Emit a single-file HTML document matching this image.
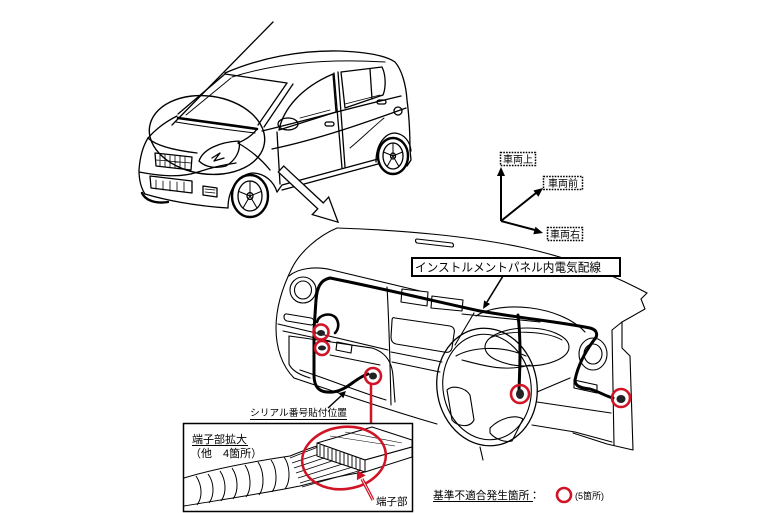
<!DOCTYPE html>
<html><head><meta charset="utf-8">
<style>
html,body{margin:0;padding:0;background:#fff;}
svg{display:block;}
text{font-family:"Liberation Sans","Noto Sans CJK JP",sans-serif;fill:#000;}
</style></head><body>
<svg width="770" height="513" viewBox="0 0 770 513" xmlns="http://www.w3.org/2000/svg">
<rect width="770" height="513" fill="#fff"/>

<!-- ================= CAR ================= -->
<g fill="none" stroke="#000" stroke-width="1.3" stroke-linejoin="round" stroke-linecap="round">
  <!-- long leader line -->
  <path d="M273,22 L172,125"/>
  <!-- roof -->
  <path d="M225,73 C260,58 300,50 340,51 C365,52 385,55 395,62 C402,70 406,85 407,100 C409,115 410,135 410,150"/>
  <path d="M232,77 C270,65 320,58 385,62" stroke-width="1"/>
  <!-- windshield -->
  <path d="M225,74 L287,83"/>
  <path d="M225,74 L178,114"/>
  <path d="M231,78 L186,115" stroke-width="0.9"/>
  <path d="M287,83 L258,125"/>
  <path d="M293,84 L264,127"/>
  <!-- cowl / wiper -->
  <path d="M178,118 C200,121 230,125 257,129" stroke-width="2.6"/>
  <path d="M176,122 C200,126 230,130 255,133" stroke-width="1"/>
  <!-- hood and front -->
  <path d="M177,116 C165,122 155,130 148,138"/>
  <path d="M148,138 C155,145 172,150 197,153"/>
  <path d="M257,129 C252,136 245,140 238,143"/>
  <path d="M148,138 C143,146 140,156 139,170 C139,180 141,188 145,194"/>
  <!-- headlight -->
  <path d="M199,161 C203,149 220,142 239,141 C241,150 236,160 226,166 C215,169 205,167 199,161 Z"/>
  <path d="M212,158 L220,153 L214,161 L224,158"/>
  <!-- grille -->
  <path d="M155,153 L192,157 L191,170 L156,166 Z"/>
  <path d="M160,155 L160,166 M165,155 L165,167 M170,156 L170,167 M175,156 L175,168 M180,156 L180,168 M185,157 L185,169 M156,160 L191,163" stroke-width="0.8"/>
  <!-- bumper -->
  <path d="M139,172 C160,176 180,178 198,172 C210,168 222,165 236,163"/>
  <path d="M145,194 C165,200 195,206 228,208"/>
  <path d="M150,176 L192,181 L192,193 L151,188 Z"/>
  <path d="M156,180 L156,189 M163,181 L163,190 M170,181 L170,191 M177,182 L177,191 M184,182 L184,192" stroke-width="0.8"/>
  <path d="M203,186 L217,188 L217,197 L203,195 Z"/>
  <path d="M205,189 L215,190 M205,192 L215,193" stroke-width="0.7"/>
  <!-- other front tyre under bumper -->
  <path d="M142,193 C145,200 155,204 168,202" stroke-width="2.4"/>
  <!-- front fender arch -->
  <path d="M228,208 C228,190 238,175 252,173 C265,173 274,182 277,192"/>
  <path d="M238,143 C250,150 262,160 270,170"/>
  <!-- front wheel -->
  <ellipse cx="250" cy="196" rx="18" ry="21" stroke-width="2.4"/>
  <ellipse cx="250" cy="196" rx="12" ry="15"/>
  <ellipse cx="250" cy="196" rx="3" ry="3.5"/>
  <path d="M250,196 L250,181 M250,196 L261.4,191.4 M250,196 L257,208 M250,196 L243,208 M250,196 L238.6,191.4" stroke-width="1"/>
  <!-- side -->
  <path d="M262,131 C300,122 350,108 401,96"/>
  <path d="M279,130 C283,110 300,88 333,74 L336,112 Z"/>
  <ellipse cx="288" cy="124" rx="10" ry="6"/>
  <path d="M334,73 L342,168"/>
  <path d="M338,72 L345,167"/>
  <path d="M341,72 L382,67 C386,75 386,88 383,95 L345,108 Z"/>
  <path d="M370,69 L372,99"/>
  <rect x="325" y="122" width="9" height="4" rx="2"/>
  <rect x="377" y="100" width="9" height="4" rx="2"/>
  <circle cx="398" cy="111" r="4"/>
  <path d="M277,132 L280,184"/>
  <path d="M277,192 L282,185 L378,159"/>
  <path d="M282,190 L378,164"/>
  <path d="M272,149 C320,139 370,121 406,108"/>
  <path d="M350,148 C362,138 372,128 384,118" stroke-width="0.9"/>
  <path d="M300,118 L330,110 M345,104 L380,95" stroke-width="0.8"/>
  <!-- rear arch -->
  <path d="M376,162 C376,143 386,133 395,133 C404,134 410,141 411,151"/>
  <path d="M410,150 L411,160 L407,166"/>
  <!-- rear wheel -->
  <ellipse cx="393" cy="156" rx="15" ry="18" stroke-width="2.4"/>
  <ellipse cx="393" cy="156" rx="10" ry="13"/>
  <ellipse cx="393" cy="156" rx="2.5" ry="3"/>
  <path d="M393,156 L393,143 M393,156 L402.5,152 M393,156 L398.9,166.5 M393,156 L387.1,166.5 M393,156 L383.5,152" stroke-width="1"/>
  <!-- callout ellipse -->
  <ellipse cx="207" cy="135" rx="58" ry="39" transform="rotate(8 207 135)" stroke-width="1.4"/>
</g>

<!-- hollow arrow car -> dash -->
<polygon points="0,-4 54,-4 54,-12 78,0 54,12 54,4 0,4" transform="translate(281,169) rotate(43)" fill="#fff" stroke="#000" stroke-width="1.3" stroke-linejoin="miter"/>

<!-- ================= DIRECTION INDICATOR ================= -->
<g stroke="#000" stroke-width="2" fill="none">
  <path d="M501,221 L501,174"/>
  <path d="M501,221 L536,193"/>
  <path d="M501,221 L535,230"/>
</g>
<g fill="#000">
  <polygon points="501,167 497,176 505,176"/>
  <polygon points="543,188 538.4,196.7 533.4,190.5"/>
  <polygon points="543,233 533.3,234.3 535.5,226.7"/>
</g>
<g fill="#fff" stroke="#000" stroke-width="1.5" stroke-dasharray="1.6,1.2">
  <rect x="500.5" y="152.5" width="35" height="13"/>
  <rect x="543.5" y="176.5" width="39" height="13"/>
  <rect x="547.5" y="227.5" width="35" height="13"/>
</g>
<text x="503" y="163" font-size="10">車両上</text>
<text x="548" y="187" font-size="10">車両前</text>
<text x="550" y="238" font-size="10">車両右</text>

<!-- ================= DASHBOARD ================= -->
<g fill="none" stroke="#000" stroke-width="1.1" stroke-linejoin="round" stroke-linecap="round">
  <path d="M337,228 C400,230 470,236 525,248 C575,259 615,276 647,293"/>
  <path d="M337,228 C318,236 300,252 292,268 C282,288 276,308 276,328 C276,348 282,366 294,378"/>
  <path d="M294,378 C330,390 370,404 420,419 L437,424"/>
  <path d="M300,370 C330,380 360,392 386,400"/>
  <path d="M289,276 C298,268 316,266 332,270 L420,291"/>
  <!-- defroster -->
  <path d="M417,239 L452,243 C454,244 454,247 452,247 L417,243 C415,242 415,239 417,239 Z"/>
  <!-- left vent -->
  <ellipse cx="303" cy="290" rx="13" ry="13"/>
  <ellipse cx="303" cy="290" rx="8.5" ry="9"/>
  <!-- left slot -->
  <path d="M287,314 L311,318 C315,319 315,325 311,325 L287,321 C283,320 283,313 287,314 Z"/>
  <path d="M278,324 L388,350"/>
  <path d="M283,331 L330,341"/>
  <!-- glovebox -->
  <path d="M289,336 C320,340 350,345 372,348 C385,352 392,361 393,376 L395,402"/>
  <path d="M289,336 L289,364 C292,371 300,375 310,378"/>
  <path d="M337,342 L352,345 L351,353 L336,350 Z"/>
  <path d="M330,355 L380,365" stroke-width="0.9"/>
  <!-- centre stack -->
  <path d="M387,287 C389,320 390,360 391,405"/>
  <path d="M402,289 L428,292 L427,306 L401,302 Z"/>
  <path d="M432,296 L463,300 L462,311 L431,308 Z"/>
  <path d="M395,318 L450,326 C454,327 455,330 454,334 L452,348 C451,352 448,353 444,352 L396,344 C392,343 391,340 391,337 L392,321 C392,318 393,317 395,318 Z"/>
  <path d="M391,352 L442,362"/>
  <path d="M392,362 L440,372"/>
  <path d="M455,345 L474,313"/>
  <path d="M462,314 L540,322"/>
  <!-- cluster -->
  <path d="M476,316 C500,300 560,305 585,332"/>
  <ellipse cx="527" cy="347" rx="42" ry="19"/>
  <path d="M490,338 C505,330 545,330 562,340" stroke-width="0.9"/>
  <!-- right vent -->
  <ellipse cx="593" cy="354" rx="14" ry="16"/>
  <ellipse cx="593" cy="354" rx="9" ry="10"/>
  <!-- right end -->
  <path d="M647,293 L641,299 L645,309 L622,322 L612,330 L614,445"/>
  <path d="M622,322 L622,348 L630,356 L633,450"/>
  <path d="M574,380 L597,385 L597,393 L574,388 Z"/>
  <path d="M537,402 L611,413"/>
  <path d="M532,425 L575,432 L612,442"/>
  <path d="M537,392 L570,378"/>
  <path d="M573,433 L607,444 L633,450"/>
  <!-- steering wheel -->
  <ellipse cx="487" cy="387" rx="50" ry="59" transform="rotate(-10 487 387)" stroke-width="1.3"/>
  <ellipse cx="487" cy="387" rx="44" ry="53" transform="rotate(-10 487 387)"/>
  <path d="M447,390 C452,385 465,387 470,395 L474,420 C470,428 458,427 452,420 Z"/>
  <path d="M490,428 C500,418 515,414 523,419 L512,441 C505,443 495,439 490,433 Z"/>
  <path d="M456,356 C470,348 500,344 526,356"/>
  <path d="M462,360 C485,366 505,372 530,365"/>
  <path d="M480,447 L483,460"/>
</g>

<!-- harness -->
<g fill="none" stroke="#000" stroke-width="3" stroke-linecap="round" stroke-linejoin="round">
  <path d="M330,278 C380,288 430,300 480,311 C520,318 560,322 590,328 C598,330 598,336 594,340 C585,352 578,365 575,380 C575,386 580,388 590,389 C600,392 605,396 613,398"/>
  <path d="M518,315 C521,340 520,365 519,390"/>
  <path d="M330,278 C320,280 317,288 316,300 L314,330 L314,375 C314,390 322,393 333,392 C348,390 355,378 368,374"/>
  <path d="M317,322 C319,314 331,312 336,318 C340,324 338,330 335,333" stroke-width="2.6"/>
</g>
<!-- connectors -->
<g fill="#222">
  <ellipse cx="321" cy="333" rx="4" ry="3"/>
  <ellipse cx="322" cy="348" rx="4" ry="2.5"/>
  <ellipse cx="373" cy="376" rx="4" ry="3.5"/>
  <ellipse cx="520" cy="394" rx="4" ry="5"/>
  <ellipse cx="621" cy="399" rx="4.5" ry="4"/>
</g>
<g fill="none" stroke="#d01425" stroke-width="2.6">
  <circle cx="321" cy="332" r="7.5"/>
  <circle cx="322" cy="348" r="7"/>
  <circle cx="373" cy="376" r="8"/>
  <circle cx="520" cy="394" r="9"/>
  <circle cx="621" cy="398" r="9"/>
</g>

<!-- label box -->
<rect x="412" y="258" width="208" height="18" fill="#fff" stroke="#000" stroke-width="2"/>
<text x="415" y="271.5" font-size="12" textLength="186" lengthAdjust="spacingAndGlyphs">インストルメントパネル内電気配線</text>
<path d="M503,276 L487,302" stroke="#000" stroke-width="1.6" fill="none"/>
<polygon points="483,309 490.1,304 484.1,300.4" fill="#000"/>

<!-- serial label -->
<text x="250" y="416" font-size="9.5" textLength="97" lengthAdjust="spacingAndGlyphs">シリアル番号貼付位置</text>
<path d="M250,419.5 L347,419.5" stroke="#000" stroke-width="0.9"/>
<path d="M328,408 L341,396" stroke="#000" stroke-width="1.4"/>
<polygon points="346,391 343.3,398.3 338.5,393.3" fill="#000"/>

<!-- red vertical arrow -->
<path d="M371,384 L371,424" stroke="#d01425" stroke-width="2.5"/>
<polygon points="371,433 366,423 376,423" fill="#d01425"/>

<!-- ================= ENLARGEMENT BOX ================= -->
<rect x="183.5" y="423.5" width="229" height="88" fill="#fff" stroke="#000" stroke-width="1.5"/>
<g fill="none" stroke="#000" stroke-width="1" stroke-linejoin="round">
  <path d="M184,478 C210,470 250,462 290,456 C300,452 310,448 317,446"/>
  <path d="M184,506 C220,500 260,494 300,486 C330,478 350,474 365,472"/>
  <path d="M208,474 C214,482 215,495 209,503"/>
  <path d="M220,471 C226,480 227,493 221,501"/>
  <path d="M232,468 C238,477 239,491 233,499"/>
  <path d="M245,465 C251,474 252,489 246,497"/>
  <path d="M258,462 C264,471 265,487 259,495"/>
  <path d="M271,460 C277,468 278,484 272,492"/>
  <path d="M284,457 C290,465 291,481 285,489"/>
  <path d="M196,476 C202,485 203,497 197,505"/>
  <path d="M290,458 L318,447 M292,463 L325,452 M294,468 L333,455 M296,473 L341,458 M298,478 L349,462 M300,483 L356,466 M302,487 L362,470" stroke-width="0.8"/>
  <polygon points="317,443 372,427 412,440 412,447 365,460" fill="#fff"/>
  <polygon points="317,443 365,460 365,472 317,456" fill="#fff"/>
  <polygon points="365,460 412,447 412,457 365,472" fill="#fff"/>
  <path d="M330,436 L395,446 M345,432 L402,443" stroke-width="0.6"/>
  <path d="M320,445 L320,456 M324,446 L324,458 M328,448 L328,459 M332,449 L332,461 M336,450 L336,462 M340,452 L340,464 M344,453 L344,465 M348,454 L348,466 M352,456 L352,468 M356,457 L356,469 M360,459 L360,470" stroke-width="0.9"/>
</g>
<text x="192" y="443" font-size="11">端子部拡大</text>
<path d="M192,445.5 L248,445.5" stroke="#000" stroke-width="0.9"/>
<text x="190" y="457" font-size="11">（他　4箇所）</text>
<ellipse cx="344" cy="458" rx="42" ry="31" transform="rotate(-8 344 458)" fill="none" stroke="#d01425" stroke-width="2.6"/>
<path d="M373,500 L362,479" stroke="#d01425" stroke-width="3.2"/>
<path d="M373,500 L362,479" stroke="#fff" stroke-width="0.8"/>
<polygon points="357,470 365.7,475.4 356.9,480.2" fill="#d01425"/>
<text x="376" y="505" font-size="10.5">端子部</text>

<!-- ================= LEGEND ================= -->
<text x="433" y="499" font-size="11" textLength="107" lengthAdjust="spacingAndGlyphs">基準不適合発生箇所：</text>
<path d="M433,501.5 L533,501.5" stroke="#000" stroke-width="0.9"/>
<circle cx="564" cy="495" r="7" fill="none" stroke="#d01425" stroke-width="2.6"/>
<text x="575" y="499" font-size="9">(5箇所)</text>
</svg>
</body></html>
